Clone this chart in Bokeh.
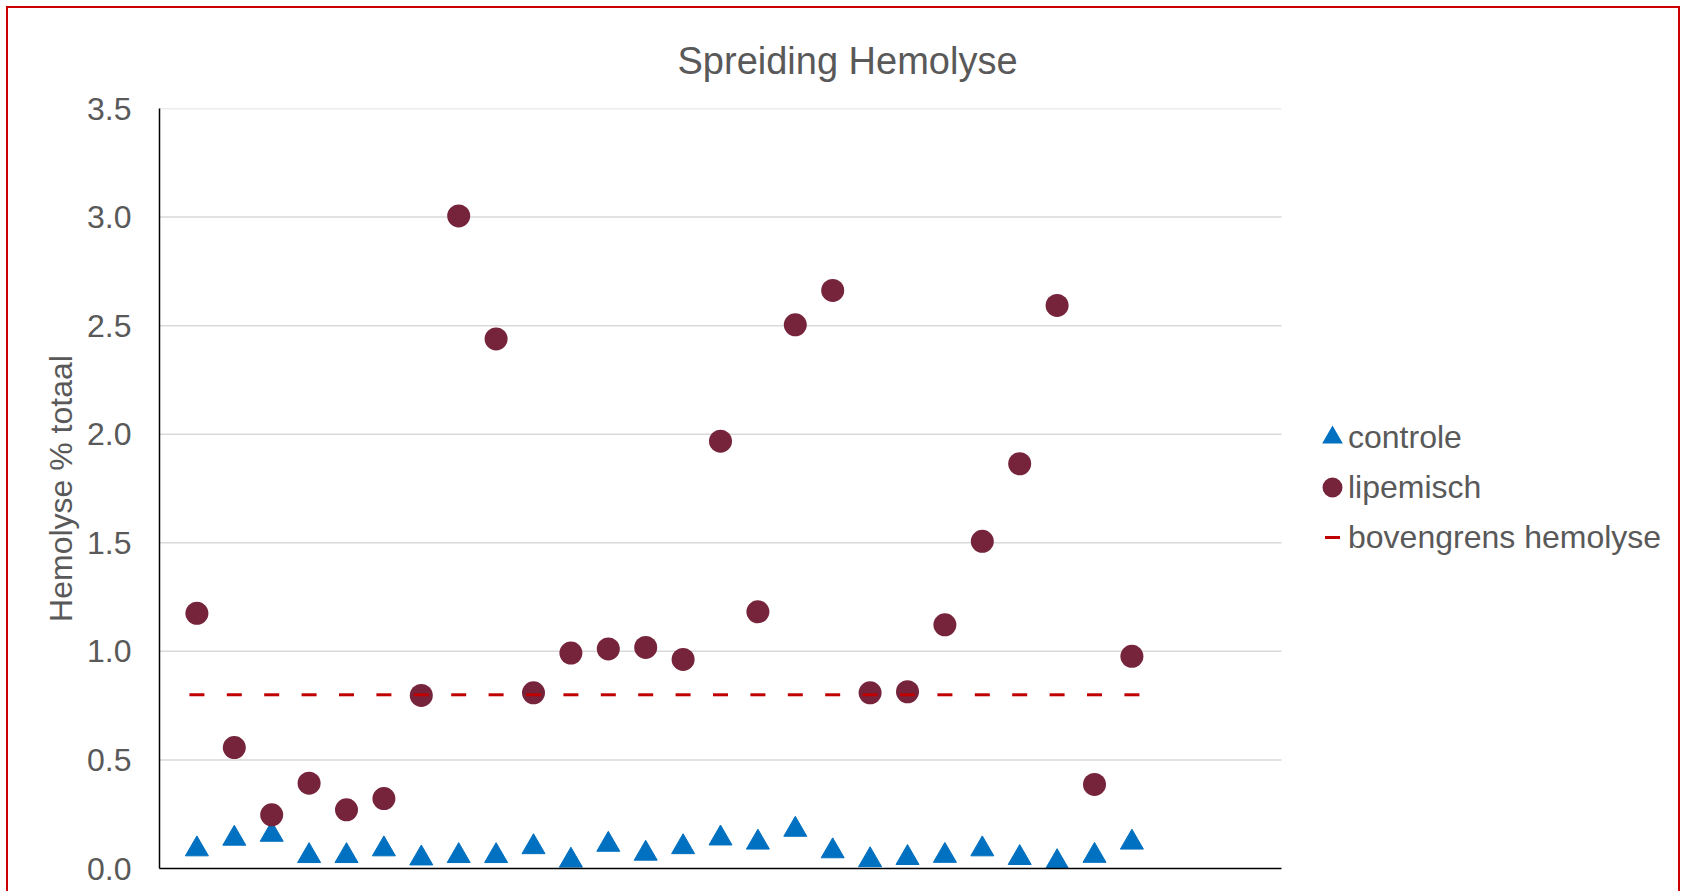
from bokeh.plotting import figure
from bokeh.models import (Legend, LegendItem, FixedTicker, NumeralTickFormatter,
                          Range1d, Title)
from bokeh.embed import file_html
from bokeh.resources import INLINE

# ---- data ----
sample = [1, 2, 3, 4, 5, 6, 7, 8, 9, 10, 11, 12, 13, 14, 15, 16, 17, 18, 19, 20, 21, 22, 23, 24, 25, 26]
controle = [0.089, 0.138, 0.156, 0.058, 0.058, 0.089, 0.047, 0.058, 0.058, 0.099,
            0.037, 0.110, 0.069, 0.099, 0.139, 0.120, 0.179, 0.080, 0.039, 0.049,
            0.059, 0.089, 0.049, 0.030, 0.059, 0.120]
lipemisch = [1.175, 0.557, 0.247, 0.393, 0.270, 0.322, 0.797, 3.005, 2.439, 0.809,
             0.992, 1.011, 1.018, 0.963, 1.968, 1.182, 2.504, 2.662, 0.809, 0.814,
             1.122, 1.507, 1.864, 2.593, 0.387, 0.977]
bovengrens = [0.8, 0.8, 0.8, 0.8, 0.8, 0.8, 0.8, 0.8, 0.8, 0.8, 0.8, 0.8, 0.8,
              0.8, 0.8, 0.8, 0.8, 0.8, 0.8, 0.8, 0.8, 0.8, 0.8, 0.8, 0.8, 0.8]
series_names = ["controle", "lipemisch", "bovengrens hemolyse"]
y_ticks = [0.0, 0.5, 1.0, 1.5, 2.0, 2.5, 3.0, 3.5]
x_axis_min, x_axis_max = 0, 30
title_text = "Spreiding Hemolyse"
y_label = "Hemolyse % totaal"

FONT = "Liberation Sans"
TXT = "#595959"
RED = "#CC0000"
BLUE = "#0070C0"
MAROON = "#76243C"
DASHRED = "#C00000"

# layout (pixels)
W, H = 1674, 885
LEFT, TOP, BOTTOM = 151, 100, 25
AXIS_PX = 1122                     # width of the 0..30 x axis
frame_w = W - LEFT                 # frame runs to the right edge (legend lives there)
x_view_max = x_axis_max * frame_w / AXIS_PX

p = figure(width=W, height=H,
           x_range=Range1d(x_axis_min, x_view_max), y_range=Range1d(0, 3.5),
           output_backend="svg", toolbar_location=None,
           min_border_left=LEFT, min_border_right=0,
           min_border_top=TOP, min_border_bottom=BOTTOM)

p.styles = {"margin-left": "6px", "margin-top": "6px",
            "border-top": "2px solid " + RED,
            "border-left": "2px solid " + RED,
            "border-right": "2px solid " + RED}
p.background_fill_color = "white"
p.border_fill_color = "white"
p.outline_line_color = None

# title: left aligned with an offset so it is centred over the whole chart area
title = Title(text=title_text, align="left", offset=518, standoff=54,
              text_font=FONT, text_font_size="38px", text_font_style="normal",
              text_color=TXT)
p.add_layout(title, "above")

# y axis
p.yaxis.ticker = FixedTicker(ticks=y_ticks)
p.yaxis.formatter = NumeralTickFormatter(format="0.0")
p.yaxis.major_tick_out = 0
p.yaxis.major_tick_in = 0
p.yaxis.minor_tick_line_color = None
p.yaxis.major_label_standoff = 28
p.yaxis.major_label_text_font = FONT
p.yaxis.major_label_text_font_size = "32px"
p.yaxis.major_label_text_color = TXT
p.yaxis.axis_label = y_label
p.yaxis.axis_label_standoff = 5
p.yaxis.axis_label_text_font = FONT
p.yaxis.axis_label_text_font_size = "32px"
p.yaxis.axis_label_text_font_style = "normal"
p.yaxis.axis_label_text_color = TXT
p.yaxis.axis_line_color = "black"
p.yaxis.axis_line_width = 1.5

# x axis: line only from 0 to 30
xa = p.below[0]
xa.ticker = FixedTicker(ticks=[])
xa.bounds = (x_axis_min, x_axis_max)
xa.major_tick_line_color = None
xa.minor_tick_line_color = None
xa.major_label_standoff = 0
xa.axis_line_color = "black"
xa.axis_line_width = 1.5

p.xgrid.visible = False
p.ygrid.visible = False
# horizontal gridlines limited to the x axis extent
grid_y = y_ticks[1:]
p.segment(x0=[x_axis_min] * len(grid_y), x1=[x_axis_max] * len(grid_y),
          y0=grid_y, y1=grid_y, line_color="#D9D9D9", line_width=1.5)

r_c = p.scatter(sample, controle, marker="triangle", size=23,
                fill_color=BLUE, line_color=BLUE, line_width=1)
r_l = p.scatter(sample, lipemisch, marker="circle", size=23,
                fill_color=MAROON, line_color=None)
r_b = p.scatter(sample, bovengrens, marker="dash", size=15,
                line_color=DASHRED, line_width=3)

# hidden twins used only for legend symbols (gives Excel-sized symbols)
lg_c = p.scatter(sample, controle, marker="triangle", fill_color=BLUE,
                 line_color=BLUE, line_width=5, line_join="miter", visible=False)
lg_l = p.scatter(sample, lipemisch, marker="circle", fill_color=MAROON,
                 line_color=MAROON, line_width=8, visible=False)
lg_b = p.scatter(sample, bovengrens, marker="dash", line_color=DASHRED,
                 line_width=3, line_cap="square", visible=False)

legend = Legend(items=[LegendItem(label=series_names[0], renderers=[lg_c]),
                       LegendItem(label=series_names[1], renderers=[lg_l]),
                       LegendItem(label=series_names[2], renderers=[lg_b])],
                location=(1158, 306), orientation="vertical",
                glyph_width=30, glyph_height=50, label_standoff=1,
                spacing=0, padding=0, margin=0,
                border_line_color=None, background_fill_alpha=0,
                inactive_fill_alpha=0,
                label_text_font=FONT, label_text_font_size="32px",
                label_text_color=TXT)
p.add_layout(legend)

open("out.html", "w").write(file_html(p, INLINE, title=title_text))
